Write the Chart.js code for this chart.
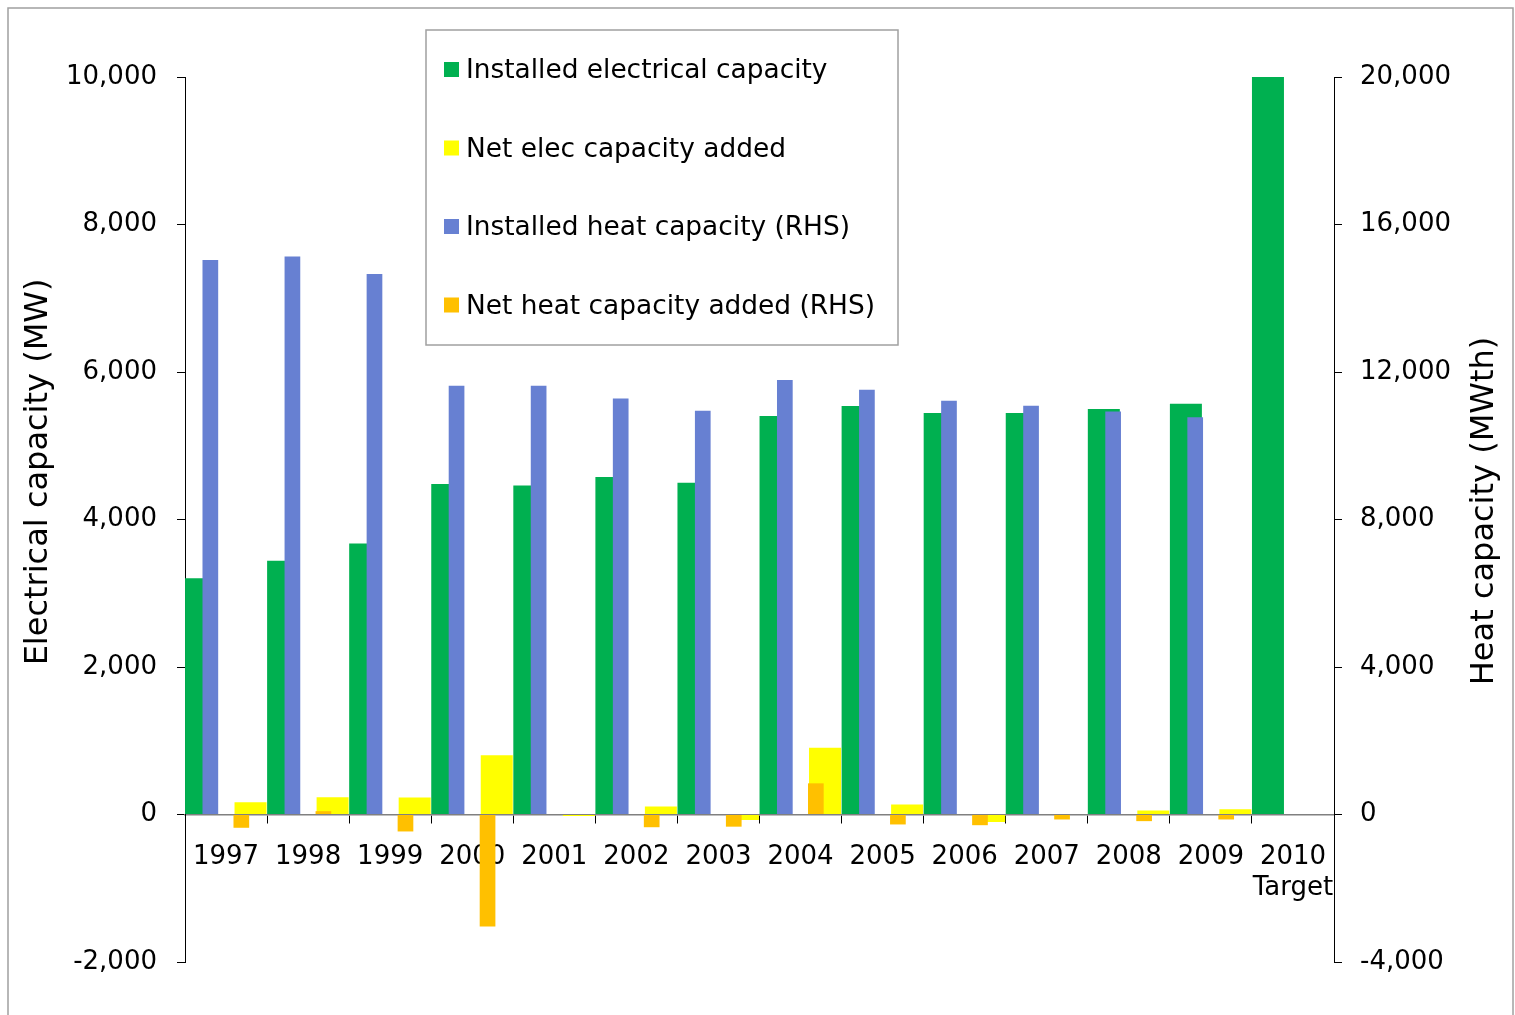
<!DOCTYPE html>
<html>
<head>
<meta charset="utf-8">
<title>Electrical and heat capacity</title>
<script src="https://cdn.jsdelivr.net/npm/chart.js@4/dist/chart.umd.min.js"></script>
<style>
  html, body { margin: 0; padding: 0; background: #ffffff; }
  canvas { display: block; }
</style>
</head>
<body>
<canvas id="chart" width="1515" height="1015"></canvas>
<script>
// Categories (last one is a two-line label)
const years = ['1997', '1998', '1999', '2000', '2001', '2002', '2003', '2004',
               '2005', '2006', '2007', '2008', '2009', ['2010', 'Target']];

// Left-hand axis series (MW)
const installedElec = [3205, 3440, 3675, 4480, 4460, 4575, 4500, 5405, 5540, 5445, 5445, 5500, 5570, 10000];
const netElecAdded  = [165, 235, 230, 805, -20, 108, -75, 905, 135, -100, 0, 55, 70, null];

// Right-hand axis series (MWth)
const installedHeat = [15040, 15130, 14660, 11630, 11630, 11280, 10950, 11780, 11520, 11220, 11085, 10930, 10770, null];
const netHeatAdded  = [-360, 90, -460, -3035, 0, -345, -330, 845, -270, -290, -135, -180, -135, null];

// Axis tick values
const elecTicks = [-2000, 0, 2000, 4000, 6000, 8000, 10000];
const heatTicks = [-4000, 0, 4000, 8000, 12000, 16000, 20000];

// Legend entries, top to bottom
const legendLabels = ['Installed electrical capacity', 'Net elec capacity added',
                      'Installed heat capacity (RHS)', 'Net heat capacity added (RHS)'];

const GREEN = '#00b050';
const YELLOW = '#ffff00';
const BLUE = '#6780d2';
const ORANGE = '#ffc000';
const FONT = "'DejaVu Sans', Verdana, sans-serif";

Chart.defaults.font.family = FONT;
Chart.defaults.color = '#000';

// Frame, axis titles and boxed legend
const decorations = {
  id: 'decorations',
  afterDraw(chart) {
    const ctx = chart.ctx;
    ctx.save();

    // outer frame
    ctx.strokeStyle = '#a0a0a0';
    ctx.lineWidth = 1.5;
    ctx.strokeRect(8, 8, 1505, 1030);

    // axis titles (both read bottom to top)
    ctx.fillStyle = '#000';
    ctx.font = '32px ' + FONT;
    ctx.textAlign = 'center';
    ctx.textBaseline = 'middle';
    ctx.save();
    ctx.translate(39, 472);
    ctx.rotate(-Math.PI / 2);
    ctx.fillText('Electrical capacity (MW)', 0, 0);
    ctx.restore();
    ctx.save();
    ctx.translate(1485, 511);
    ctx.rotate(-Math.PI / 2);
    ctx.fillText('Heat capacity (MWth)', 0, 0);
    ctx.restore();

    // legend box
    ctx.fillStyle = '#ffffff';
    ctx.fillRect(426, 30, 472, 315);
    ctx.strokeStyle = '#a0a0a0';
    ctx.lineWidth = 1.5;
    ctx.strokeRect(426, 30, 472, 315);

    const rowY = [69.5, 148, 226.5, 305];
    ctx.font = '26.4px ' + FONT;
    ctx.textAlign = 'left';
    ctx.textBaseline = 'middle';
    legendLabels.forEach((label, i) => {
      const ds = chart.data.datasets.find(d => d.label === label);
      ctx.fillStyle = ds.backgroundColor;
      ctx.fillRect(444, rowY[i] - 7.5, 15, 15);
      ctx.fillStyle = '#000';
      ctx.fillText(label, 466, rowY[i] + 2);
    });
    ctx.restore();
  }
};

// All four series share one category axis and form one group of four slots;
// per-series category/bar percentages set where each bar sits inside its year.
new Chart(document.getElementById('chart'), {
  type: 'bar',
  data: {
    labels: years,
    datasets: [
      { label: 'Installed heat capacity (RHS)', data: installedHeat, backgroundColor: BLUE,
        yAxisID: 'y2', order: 0, categoryPercentage: 0.510, barPercentage: 1.50 },
      { label: 'Installed electrical capacity', data: installedElec, backgroundColor: GREEN,
        yAxisID: 'y', order: 1, categoryPercentage: 2.437, barPercentage: 0.64 },
      { label: 'Net heat capacity added (RHS)', data: netHeatAdded, backgroundColor: ORANGE,
        yAxisID: 'y2', order: 2, categoryPercentage: 1.491, barPercentage: 0.513 },
      { label: 'Net elec capacity added', data: netElecAdded, backgroundColor: YELLOW,
        yAxisID: 'y', order: 3, categoryPercentage: 0.796, barPercentage: 1.96 }
    ]
  },
  options: {
    responsive: false,
    animation: false,
    devicePixelRatio: 1,
    layout: { padding: { top: 77, bottom: 53, left: 0, right: 0 } },
    plugins: { legend: { display: false }, tooltip: { enabled: false } },
    scales: {
      x: {
        type: 'category',
        position: { y: 0 },
        offset: true,
        z: 1,
        grid: { offset: true, drawOnChartArea: false, drawTicks: true, tickLength: 8, tickColor: '#000', tickWidth: 1 },
        border: { display: true, color: '#808080', width: 1.5 },
        ticks: { color: '#000', font: { size: 26 }, padding: 19, maxRotation: 0, autoSkip: false }
      },
      y: {
        position: 'left',
        min: -2000,
        max: 10000,
        afterBuildTicks: s => { s.ticks = elecTicks.map(v => ({ value: v })); },
        afterFit: s => { s.width = 185; },
        grid: { drawOnChartArea: false, tickLength: 8, tickColor: '#000' },
        border: { color: '#000', width: 1 },
        ticks: { color: '#000', font: { size: 26 }, padding: 20 }
      },
      y2: {
        position: 'right',
        min: -4000,
        max: 20000,
        afterBuildTicks: s => { s.ticks = heatTicks.map(v => ({ value: v })); },
        afterFit: s => { s.width = 181; },
        grid: { drawOnChartArea: false, tickLength: 8, tickColor: '#000' },
        border: { color: '#000', width: 1 },
        ticks: { color: '#000', font: { size: 26 }, padding: 18 }
      }
    }
  },
  plugins: [decorations]
});
</script>
</body>
</html>
